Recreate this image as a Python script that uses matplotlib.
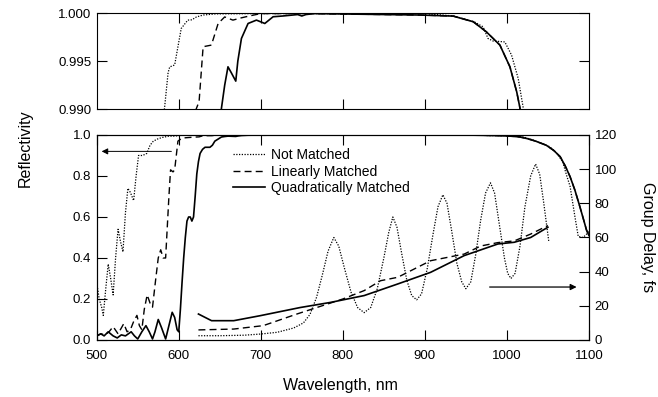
import numpy as np
import matplotlib
matplotlib.use("Agg")
import matplotlib.pyplot as plt

plt.rcParams['font.family'] = ['Liberation Sans', 'DejaVu Sans']

# reflectivity, not matched (dotted)
wl_not = [500, 503, 506, 508, 511, 514, 517, 520, 523, 526, 529, 532, 535, 538, 541, 545,
          548, 551, 556, 561, 565, 569, 575, 580, 583, 587, 589, 595, 599, 603, 611, 616,
          621.6, 630, 645, 700, 760, 900, 935, 960, 971, 977, 983, 997.5, 1005.7, 1013.8,
          1020, 1030, 1040, 1052, 1060, 1068, 1073, 1077, 1083, 1087, 1093, 1098, 1100]
r_not = [0.28, 0.20, 0.16, 0.12, 0.25, 0.37, 0.30, 0.22, 0.40, 0.54, 0.48, 0.43, 0.62, 0.74,
         0.72, 0.68, 0.80, 0.90, 0.90, 0.91, 0.95, 0.97, 0.982, 0.988, 0.9904, 0.9938, 0.9944,
         0.9946, 0.9965, 0.9984, 0.99927, 0.9993, 0.9996, 0.9998, 0.99992, 0.99995, 0.99995,
         0.99995, 0.9997, 0.9991, 0.99857, 0.99736, 0.9971, 0.9970, 0.99563, 0.9932, 0.9901,
         0.978, 0.962, 0.943, 0.915, 0.87, 0.80, 0.75, 0.60, 0.505, 0.50, 0.52, 0.53]

# reflectivity, linearly matched (dashed)
wl_lin = [500, 505, 510, 515, 520, 526, 533, 537, 541, 545, 549, 552, 555, 558, 561.5, 565,
          568, 572, 575, 578, 581, 584, 586, 588, 590, 593, 595, 597, 599, 604, 610, 618,
          624.8, 629.7, 639.8, 648, 656, 666, 676, 686, 700, 760, 894, 934.5, 959, 975, 991.5,
          1003.7, 1012, 1016, 1025, 1035, 1048, 1057, 1065, 1071, 1077, 1083, 1089, 1094,
          1097, 1100]
r_lin = [0.02, 0.03, 0.025, 0.04, 0.065, 0.03, 0.08, 0.04, 0.05, 0.09, 0.12, 0.07, 0.05, 0.15,
         0.22, 0.18, 0.16, 0.30, 0.40, 0.44, 0.40, 0.40, 0.55, 0.70, 0.83, 0.82, 0.83, 0.90,
         0.97, 0.985, 0.987, 0.9893, 0.9908, 0.9965, 0.99667, 0.99892, 0.9996, 0.99927, 0.9995,
         0.9997, 0.99995, 0.99995, 0.9998, 0.99969, 0.9991, 0.99805, 0.99667, 0.99441, 0.9918,
         0.9901, 0.982, 0.970, 0.950, 0.925, 0.894, 0.85, 0.797, 0.73, 0.65, 0.58, 0.537, 0.51]

# reflectivity, quadratically matched (solid)
wl_quad = [500, 505, 509, 514, 520, 525, 530, 535, 542, 546, 550, 555, 560, 564, 568, 571,
           575, 579, 584, 588, 592, 595, 598, 600, 602, 604, 606, 608, 610, 612, 614, 616,
           618, 620, 622, 624, 626, 629, 632, 638, 641, 644, 648, 652, 656, 660, 664, 669.5,
           672, 676.4, 684.5, 694.7, 704.9, 715, 727, 745, 750, 755, 765, 894, 934.5, 959,
           975, 991.5, 1003.7, 1012, 1016, 1025, 1035, 1048, 1057, 1065, 1071, 1077, 1083,
           1089, 1094, 1097, 1100]
r_quad = [0.02, 0.03, 0.02, 0.04, 0.02, 0.01, 0.025, 0.02, 0.04, 0.02, 0.005, 0.04, 0.07, 0.04,
          0.005, 0.04, 0.10, 0.06, 0.005, 0.07, 0.135, 0.11, 0.05, 0.04, 0.15, 0.28, 0.40, 0.50,
          0.58, 0.60, 0.60, 0.58, 0.60, 0.70, 0.81, 0.87, 0.91, 0.93, 0.94, 0.94, 0.95, 0.97,
          0.98, 0.99007, 0.9925, 0.99441, 0.9938, 0.99292, 0.9950, 0.99736, 0.99892, 0.99927,
          0.99892, 0.99962, 0.9997, 0.99985, 0.9997, 0.99985, 0.99995, 0.9998, 0.99969, 0.9991,
          0.99805, 0.99667, 0.99441, 0.9918, 0.9901, 0.982, 0.970, 0.950, 0.925, 0.894, 0.85,
          0.797, 0.73, 0.65, 0.58, 0.537, 0.51]

# group delay, fs
gd_wl_not = [624, 650, 680, 700, 720, 740, 752, 760, 768, 775, 782, 789, 795, 802, 810, 818,
             826, 834, 842, 850, 856, 861, 866, 872, 878, 884, 890, 896, 903, 910, 916, 922,
             927, 933, 939, 945, 950, 956, 962, 968, 974, 980, 985, 991, 997, 1001, 1005,
             1010, 1016, 1022, 1029, 1035, 1040, 1045, 1051]
gd_not = [2.5, 2.5, 2.8, 3.5, 4.5, 7, 10, 15, 25, 38, 52, 60, 55, 42, 28, 19, 16, 19, 30, 48,
          63, 72, 66, 50, 35, 26, 23.5, 27, 42, 62, 78, 85, 80, 63, 45, 34, 30, 34, 50, 70, 86,
          92, 86, 67, 48, 39, 36, 39, 55, 78, 96, 103, 97, 80, 58]
gd_wl_lin = [624, 667, 703, 744, 781, 800, 826, 846, 867, 907, 948, 968, 989, 1009, 1029, 1050]
gd_lin = [5.9, 6.4, 8.4, 15.2, 21, 24, 28.9, 34.7, 36.7, 46.4, 50.3, 55, 57, 58, 62, 67]
gd_wl_quad = [624, 640, 667, 699, 748, 785, 826, 867, 907, 948, 989, 1009, 1029, 1050]
gd_quad = [15.2, 11.3, 11.3, 14.2, 19, 22, 26, 32.8, 39.6, 49.4, 56.2, 57.2, 60, 66]

fig = plt.figure(figsize=(6.58, 3.97), dpi=100)
ax_top = fig.add_axes([0.147, 0.725, 0.748, 0.242])
ax = fig.add_axes([0.147, 0.1436, 0.748, 0.5164])
ax2 = ax.twinx()

dot = (0, (1, 1.2))
dash = (0, (5, 3))

ax_top.plot(wl_not, r_not, color='black', linestyle=dot, linewidth=0.9)
ax_top.plot(wl_lin, r_lin, color='black', linestyle=dash, linewidth=1.0)
ax_top.plot(wl_quad, r_quad, color='black', linestyle='-', linewidth=1.2)

l1, = ax.plot(wl_not, r_not, color='black', linestyle=dot, linewidth=0.9,
              label='Not Matched')
l2, = ax.plot(wl_lin, r_lin, color='black', linestyle=dash, linewidth=1.0,
              label='Linearly Matched')
l3, = ax.plot(wl_quad, r_quad, color='black', linestyle='-', linewidth=1.2,
              label='Quadratically Matched')
ax2.plot(gd_wl_not, gd_not, color='black', linestyle=dot, linewidth=0.9)
ax2.plot(gd_wl_lin, gd_lin, color='black', linestyle=dash, linewidth=1.0)
ax2.plot(gd_wl_quad, gd_quad, color='black', linestyle='-', linewidth=1.2)

ax_top.set_xlim(500, 1100)
ax_top.set_ylim(0.990, 1.000)
ax_top.set_yticks([0.990, 0.995, 1.000])
ax_top.set_yticklabels(['0.990', '0.995', '1.000'])
ax_top.set_xticks([600, 700, 800, 900, 1000])
ax_top.tick_params(axis='x', labelbottom=False)

ax.set_xlim(500, 1100)
ax.set_ylim(0, 1.0)
ax.set_yticks([0.0, 0.2, 0.4, 0.6, 0.8, 1.0])
ax.set_yticklabels(['0.0', '0.2', '0.4', '0.6', '0.8', '1.0'])
ax.set_xticks([500, 600, 700, 800, 900, 1000, 1100])
ax2.set_ylim(0, 120)
ax2.set_yticks([0, 20, 40, 60, 80, 100, 120])

for a in (ax_top, ax):
    a.tick_params(direction='in', top=True, length=7, width=0.8, labelsize=9.5, pad=4)
    a.tick_params(axis='y', right=(a is ax_top))
ax.tick_params(axis='x', pad=7)
ax2.tick_params(direction='in', length=7, width=0.8, labelsize=9.5, pad=4)
for a in (ax_top, ax, ax2):
    for s in a.spines.values():
        s.set_linewidth(0.8)

ax.annotate('', xy=(506, 0.92), xytext=(591, 0.92),
            arrowprops=dict(arrowstyle='-|>', color='black', lw=0.7,
                            mutation_scale=9, shrinkA=0, shrinkB=0))
ax2.annotate('', xy=(1085, 31), xytext=(979, 31),
             arrowprops=dict(arrowstyle='-|>', color='black', lw=0.9,
                             mutation_scale=9, shrinkA=0, shrinkB=0))

ax2.legend(handles=[l1, l2, l3], loc='upper left', bbox_to_anchor=(0.276, 0.935),
           frameon=False, fontsize=10, handlelength=2.3, handletextpad=0.5,
           labelspacing=0.18, borderpad=0, borderaxespad=0)

fig.text(0.038, 0.627, 'Reflectivity', rotation=90, ha='center', va='center', fontsize=11.5)
fig.text(0.984, 0.403, 'Group Delay, fs', rotation=270, ha='center', va='center',
         fontsize=11.5)
fig.text(0.517, 0.03, 'Wavelength, nm', ha='center', va='center', fontsize=11.5)

fig.savefig('out.png', dpi=100)
